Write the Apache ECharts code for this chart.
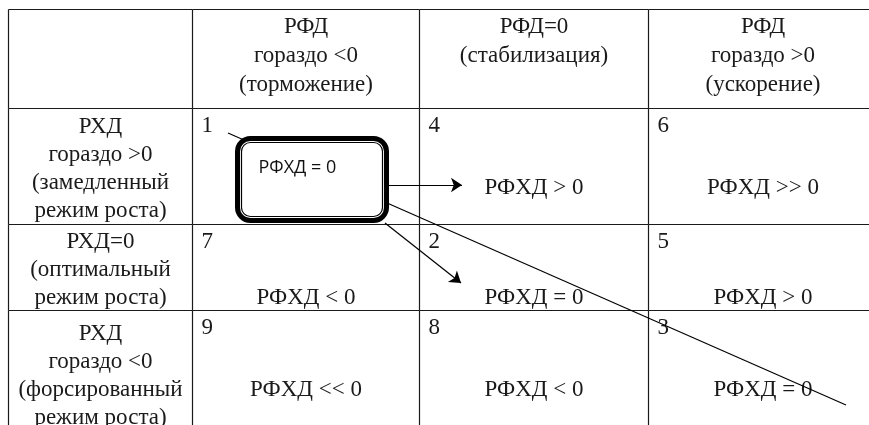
<!DOCTYPE html>
<html>
<head>
<meta charset="utf-8">
<style>
html, body { margin: 0; padding: 0; background: #fff; }
#chart { width: 869px; height: 425px; }
</style>
<script src="https://cdn.jsdelivr.net/npm/echarts@6/dist/echarts.min.js"></script>
</head>
<body>
<div id="chart"></div>
<script>
// table content
var colHeaders = ['', 'РФД\nгораздо <0\n(торможение)', 'РФД=0\n(стабилизация)', 'РФД\nгораздо >0\n(ускорение)'];
var rowHeaders = ['РХД\nгораздо >0\n(замедленный\nрежим роста)', 'РХД=0\n(оптимальный\nрежим роста)', 'РХД\nгораздо <0\n(форсированный\nрежим роста)'];
var cellNumbers = [[1, 4, 6], [7, 2, 5], [9, 8, 3]];
var cellValues = [['', 'РФХД > 0', 'РФХД >> 0'], ['РФХД < 0', 'РФХД = 0', 'РФХД > 0'], ['РФХД << 0', 'РФХД < 0', 'РФХД = 0']];
var boxLabel = 'РФХД = 0';

// layout (grid units = px), last row/col run past the page edge
var colWidths = [184, 227, 229, 229];
var rowHeights = [99, 116, 86, 126];
var valueOffset = [79, 73, 79];
var box = { x: 229.5, y: 129.5, w: 149, h: 82 };
var arrowLinks = [[[379, 176], [454, 176]], [[377, 214], [453, 274]]];
var crossLine = [[220, 124], [838, 396]];
var VIEW_W = 861, VIEW_H = 416;

var SERIF = '23px "Liberation Serif", "Times New Roman", serif';
var INK = '#1a1a1a';

var colEdges = [0], rowEdges = [0];
colWidths.forEach(function(w) { colEdges.push(colEdges[colEdges.length - 1] + w); });
rowHeights.forEach(function(h) { rowEdges.push(rowEdges[rowEdges.length - 1] + h); });

var cells = [];
for (var r = 0; r < rowHeights.length; r++) {
	for (var c = 0; c < colWidths.length; c++) {
		cells.push([c, r]);
	}
}

function renderCell(params, api) {
	var c = api.value(0), r = api.value(1);
	var p0 = api.coord([colEdges[c], rowEdges[r]]);
	var p1 = api.coord([colEdges[c + 1], rowEdges[r + 1]]);
	var x0 = Math.round(p0[0]) + 0.5, y0 = Math.round(p0[1]) + 0.5;
	var x1 = Math.round(p1[0]) + 0.5, y1 = Math.round(p1[1]) + 0.5;
	var lineStyle = { stroke: INK, lineWidth: 1.2 };
	var children = [
		{ type: 'line', shape: { x1: x0, y1: y0, x2: x1, y2: y0 }, style: lineStyle },
		{ type: 'line', shape: { x1: x0, y1: y0, x2: x0, y2: y1 }, style: lineStyle }
	];
	var cx = (x0 + x1) / 2;
	if (r === 0 && c > 0) {
		children.push({ type: 'text', style: {
			text: colHeaders[c], x: cx, y: y0 + 3, align: 'center', verticalAlign: 'top',
			font: SERIF, lineHeight: 29, fill: INK } });
	} else if (r > 0 && c === 0) {
		children.push({ type: 'text', style: {
			text: rowHeaders[r - 1], x: cx, y: (y0 + y1) / 2 + 2, align: 'center', verticalAlign: 'middle',
			font: SERIF, lineHeight: 28, fill: INK } });
	} else if (r > 0 && c > 0) {
		children.push({ type: 'text', style: {
			text: String(cellNumbers[r - 1][c - 1]), x: x0 + 9, y: y0 + 17, align: 'left', verticalAlign: 'middle',
			font: SERIF, fill: INK } });
		children.push({ type: 'text', style: {
			text: cellValues[r - 1][c - 1], x: cx, y: y0 + valueOffset[r - 1], align: 'center', verticalAlign: 'middle',
			font: SERIF, fill: INK } });
	}
	return { type: 'group', children: children };
}

function renderBox(params, api) {
	var p0 = api.coord([box.x, box.y]);
	var p1 = api.coord([box.x + box.w, box.y + box.h]);
	var w = p1[0] - p0[0], h = p1[1] - p0[1];
	return { type: 'group', children: [
		{ type: 'rect', shape: { x: p0[0], y: p0[1], width: w, height: h, r: 13 },
			style: { fill: '#fff', stroke: '#000', lineWidth: 5 } },
		{ type: 'rect', shape: { x: p0[0] + 4, y: p0[1] + 4, width: w - 8, height: h - 8, r: 9 },
			style: { fill: 'none', stroke: '#000', lineWidth: 1.2 } },
		{ type: 'text', style: { text: boxLabel, x: p0[0] + 21, y: p0[1] + 29, verticalAlign: 'middle',
			font: '18px "Open Sans", sans-serif', fill: '#111' } }
	] };
}

var chart = echarts.init(document.getElementById('chart'));
chart.setOption({
	animation: false,
	grid: { left: 8, top: 9, width: VIEW_W, height: VIEW_H },
	xAxis: { type: 'value', min: 0, max: VIEW_W, show: false },
	yAxis: { type: 'value', min: 0, max: VIEW_H, inverse: true, show: false },
	series: [{
		type: 'custom', z: 1, renderItem: renderCell, data: cells, silent: true, clip: false
	}, {
		type: 'lines', coordinateSystem: 'cartesian2d', z: 2, silent: true,
		symbol: 'none',
		lineStyle: { color: '#000', width: 1.2, opacity: 1 },
		data: [{ coords: crossLine }]
	}, {
		type: 'custom', z: 3, renderItem: renderBox, data: [[0, 0]], silent: true
	}, {
		type: 'lines', coordinateSystem: 'cartesian2d', z: 4, silent: true,
		symbol: ['none', 'arrow'], symbolSize: 11,
		lineStyle: { color: '#000', width: 1.2, opacity: 1 },
		data: arrowLinks.map(function(l) { return { coords: l }; })
	}]
});
</script>
</body>
</html>
